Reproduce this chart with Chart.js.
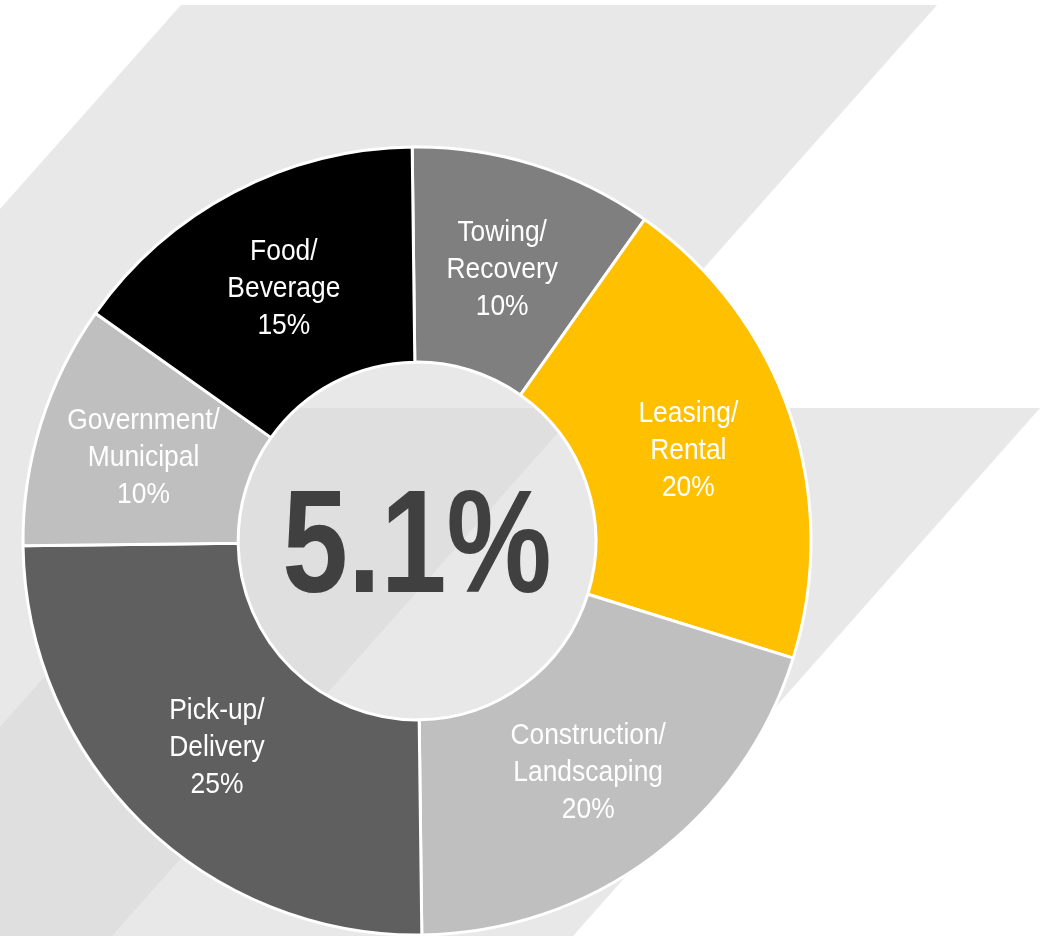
<!DOCTYPE html>
<html>
<head>
<meta charset="utf-8">
<title>Segment share</title>
<script src="https://cdn.jsdelivr.net/npm/chart.js@4.4.1/dist/chart.umd.min.js"></script>
<style>
    html, body { margin: 0; padding: 0; background: #fff; }
    #wrap { width: 1043px; height: 936px; }
</style>
</head>
<body>
<div id="wrap"><canvas id="shareChart" width="1043" height="936"></canvas></div>
<script>
// slices, clockwise from 12 o'clock
const categories = [
    ['Towing/', 'Recovery'],
    ['Leasing/', 'Rental'],
    ['Construction/', 'Landscaping'],
    ['Pick-up/', 'Delivery'],
    ['Government/', 'Municipal'],
    ['Food/', 'Beverage']
];
const shares = [10, 20, 20, 25, 10, 15];
const sliceColors = ['#7f7f7f', '#ffc000', '#bfbfbf', '#5f5f5f', '#bfbfbf', '#000000'];
const centerValue = '5.1%';

const ctx = document.getElementById('shareChart');

function tracePoly(c, pts) {
    c.beginPath();
    c.moveTo(pts[0][0], pts[0][1]);
    for (let i = 1; i < pts.length; i++) c.lineTo(pts[i][0], pts[i][1]);
    c.closePath();
}

// light grey chevrons behind the ring
const backdrop = {
    id: 'backdrop',
    beforeDraw(chart) {
        const c = chart.ctx;
        const shapeA = [[181, 5], [937, 5], [112, 936], [0, 936], [0, 209]];
        const shapeB = [[282, 408], [1040, 408], [573, 936], [0, 936], [0, 727]];
        c.save();
        c.fillStyle = '#ffffff';
        c.fillRect(0, 0, chart.width, chart.height);
        c.fillStyle = '#e8e8e8';
        tracePoly(c, shapeA);
        c.fill();
        tracePoly(c, shapeB);
        c.fill();
        //overlap is a bit darker
        tracePoly(c, shapeA);
        c.clip();
        c.fillStyle = '#dfdfdf';
        tracePoly(c, shapeB);
        c.fill();
        c.restore();
    }
};

// text inside each slice + big number in the hole
const sliceText = {
    id: 'sliceText',
    afterDatasetsDraw(chart) {
        const c = chart.ctx;
        const meta = chart.getDatasetMeta(0);
        c.save();
        c.fillStyle = '#ffffff';
        c.textAlign = 'center';
        c.textBaseline = 'alphabetic';
        c.font = '30px "Liberation Sans", Arial, sans-serif';
        meta.data.forEach((arc, i) => {
            const p = arc.tooltipPosition();
            const lines = [...categories[i], shares[i] + '%'];
            lines.forEach((t, j) => {
                c.save();
                c.translate(p.x, p.y + 10 + (j - 1) * 37);
                c.scale(0.88, 1);
                c.fillText(t, 0, 0);
                c.restore();
            });
        });

        const first = meta.data[0];
        c.fillStyle = '#404040';
        c.font = 'bold 146px "Liberation Sans", Arial, sans-serif';
        c.translate(first.x, first.y + 51);
        c.scale(0.81, 1);
        c.fillText(centerValue, 0, 0);
        c.restore();
    }
};

new Chart(ctx, {
    type: 'doughnut',
    data: {
        labels: categories,
        datasets: [{
            data: shares,
            backgroundColor: sliceColors,
            borderColor: '#ffffff',
            borderWidth: 3
        }]
    },
    options: {
        responsive: false,
        animation: false,
        radius: 394,
        cutout: '45.4%',
        rotation: -0.7,
        layout: {
            padding: { left: 0, right: 209, top: 146, bottom: 0 }
        },
        plugins: {
            legend: { display: false },
            tooltip: { enabled: false }
        }
    },
    plugins: [backdrop, sliceText]
});
</script>
</body>
</html>
